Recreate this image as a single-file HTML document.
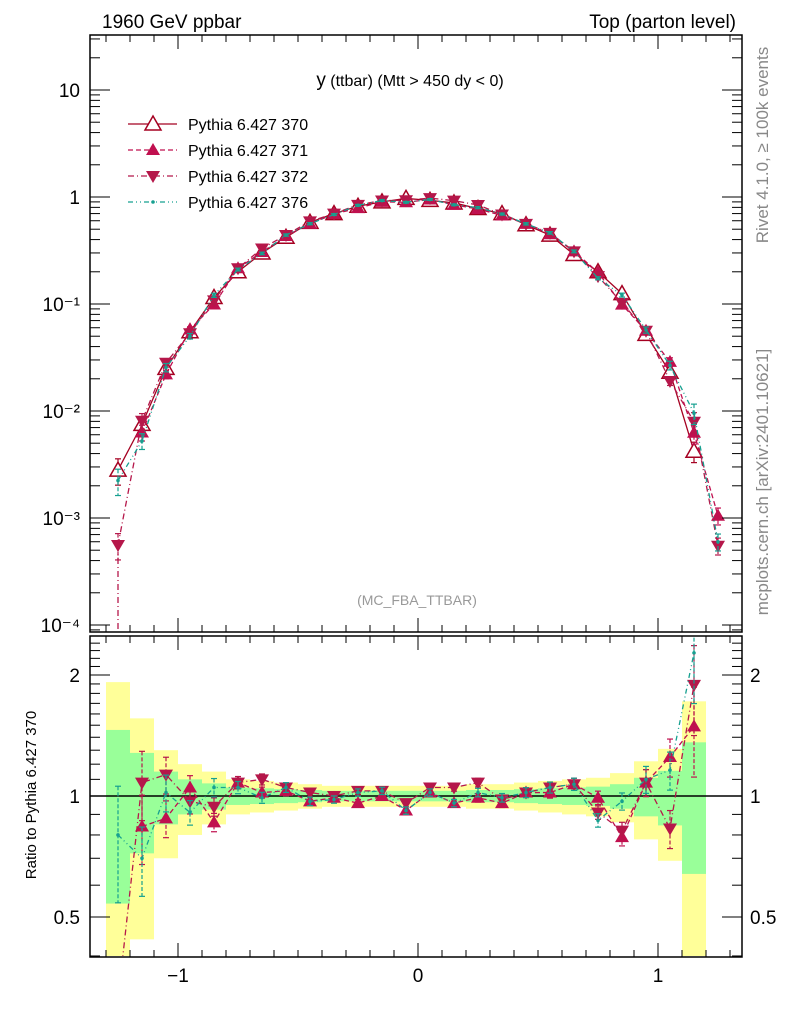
<!DOCTYPE html>
<html><head><meta charset="utf-8"><style>
html,body{margin:0;padding:0;background:#fff;overflow:hidden;width:786px;height:1024px;}
svg{display:block;position:absolute;left:0;top:0;}
svg text{font-family:"Liberation Sans",sans-serif;}
</style></head><body>
<svg id="chart" width="786" height="1024" viewBox="0 0 786 1024" xmlns="http://www.w3.org/2000/svg">
<defs>
<clipPath id="clipMain"><rect x="91" y="36" width="650" height="595"/></clipPath>
<clipPath id="clipRatio"><rect x="91" y="637" width="650" height="319"/></clipPath>
</defs>
<g id="bands" clip-path="url(#clipRatio)"></g>
<g id="grid"></g>
<g id="mainSeries" clip-path="url(#clipMain)"></g>
<g id="ratioSeries" clip-path="url(#clipRatio)"></g>
<rect x="90" y="35" width="652" height="597" fill="none" stroke="#000" stroke-width="1.5"/>
<rect x="90" y="636" width="652" height="321" fill="none" stroke="#000" stroke-width="1.5"/>
<g id="axes"></g>
<text x="102" y="28" font-size="19">1960 GeV ppbar</text>
<text x="736" y="28" font-size="19" text-anchor="end">Top (parton level)</text>
<text x="410" y="86" font-size="16" text-anchor="middle"><tspan font-size="19">y</tspan> (ttbar) (Mtt &gt; 450 dy &lt; 0)</text>
<text x="417" y="605" font-size="14" fill="#999" text-anchor="middle">(MC_FBA_TTBAR)</text>
<text transform="translate(768,145) rotate(-90)" font-size="17" fill="#888" text-anchor="middle">Rivet 4.1.0, ≥ 100k events</text>
<text transform="translate(768,482) rotate(-90)" font-size="17" fill="#888" text-anchor="middle">mcplots.cern.ch [arXiv:2401.10621]</text>
<text transform="translate(36,795) rotate(-90)" font-size="15" text-anchor="middle">Ratio to Pythia 6.427 370</text>
<g id="legend"></g>
<script>
const bins = [-1.25,-1.15,-1.05,-0.95,-0.85,-0.75,-0.65,-0.55,-0.45,-0.35,-0.25,-0.15,-0.05,0.05,0.15,0.25,0.35,0.45,0.55,0.65,0.75,0.85,0.95,1.05,1.15,1.25];
const ref370 = [2.8e-3,7.5e-3,0.025,0.055,0.115,0.2,0.3,0.42,0.58,0.7,0.82,0.9,0.97,0.93,0.88,0.78,0.7,0.55,0.44,0.29,0.2,0.125,0.052,0.023,4.2e-3,null];
const ratio371 = [null,0.84,0.88,1.05,0.86,1.08,1.02,1.03,0.97,0.99,0.96,1.0,0.92,1.02,0.96,0.99,0.96,1.02,1.02,1.07,0.99,0.79,1.08,1.25,1.49,null];
const ratio372 = [0.2,1.08,1.13,0.97,0.94,1.08,1.10,1.05,1.02,1.0,1.03,1.03,0.96,1.05,1.05,1.08,0.98,1.02,1.05,1.07,0.91,0.82,1.08,0.83,1.89,null];
const ratio376 = [0.8,0.7,1.02,0.91,1.05,1.05,0.99,1.05,0.97,0.98,1.02,1.03,0.92,1.02,0.96,1.02,0.99,1.02,1.05,1.07,0.87,0.97,1.10,1.16,2.27,null];
const lastBin371 = 1.05e-3, lastBin372 = 5.5e-4, lastBin376 = 6e-4;
const relErr370 = [0.46,0.28,0.15,0.10,0.075,0.05,0.045,0.04,0.035,0.03,0.03,0.03,0.03,0.03,0.03,0.035,0.035,0.04,0.045,0.05,0.055,0.07,0.11,0.155,0.36,0];
const mainTickLabels = ["10⁻⁴","10⁻³","10⁻²","10⁻¹","1","10"];
const ratioTicks = [0.5,1,2];
const xTicks = [-1,0,1];

const NS="http://www.w3.org/2000/svg";
const X = v => 418 + 240*v;
const YM = v => Math.min(197 - 107*Math.log10(v), 640);
const YR = r => Math.min(796 - 402*Math.log10(r), 1000);
function mk(tag, attrs, parent){const e=document.createElementNS(NS,tag);for(const k in attrs)e.setAttribute(k,attrs[k]);parent.appendChild(e);return e;}

const bandG=document.getElementById('bands');
bins.forEach((b,i)=>{ const e=relErr370[i]; if(!e) return;
  const x0=X(b-0.05), w=240*0.1;
  const ylo=Math.max(1-2*e,0.01);
  const yt=YR(1+2*e), ybt=Math.min(YR(ylo),957);
  const yb=mk('rect',{x:x0,y:yt,width:w,height:ybt-yt,fill:'#ffff99'},bandG);
  
  
  const gt=YR(1+e), gbt=Math.min(YR(1-e),957);
  const gb=mk('rect',{x:x0,y:gt,width:w,height:gbt-gt,fill:'#99ff99'},bandG);
  
  
});
const one=mk('line',{x1:90,x2:742,y1:YR(1),y2:YR(1),stroke:'#000','stroke-width':1.5},document.getElementById('grid'));



const ax=document.getElementById('axes');
function tk(x1,y1,x2,y2){mk('line',{x1,y1,x2,y2,stroke:'#000','stroke-width':1},ax);}
for(let k=-13;k<=13;k++){const v=k/10,x=X(v),L=(k%10===0)?14:7;
  if(x<91||x>741)continue;
  tk(x,632,x,632-L);tk(x,35,x,35+L);tk(x,957,x,957-L);tk(x,636,x,636+L);}
for(let d=-5;d<=1;d++){for(let m=1;m<=9;m++){const v=m*Math.pow(10,d),y=197-107*Math.log10(v);
  if(y<36||y>631)continue;const L=m===1?20:10;tk(90,y,90+L,y);tk(742,y,742-L,y);}}
[0.4,0.5,0.6,0.7,0.8,0.9,1,2].forEach(r=>{const y=YR(r);if(y<637||y>956)return;
  const L=(r===0.5||r===1||r===2)?20:10;tk(90,y,90+L,y);tk(742,y,742-L,y);});
for(let r=1.1;r<2.5;r+=0.1){const y=YR(r);if(y<637)break;if(Math.abs(r-2)<0.01)continue;tk(90,y,100,y);tk(742,y,732,y);}
mainTickLabels.forEach((t,i)=>{const d=i-4;const el=mk('text',{x:80,y:YM(Math.pow(10,d))+7,'font-size':19,'text-anchor':'end'},ax);el.textContent=t;
  
  });
ratioTicks.forEach(r=>{[80,750].forEach(x=>{const el=mk('text',{x:x,y:YR(r)+7,'font-size':19,'text-anchor':x<100?'end':'start'},ax);el.textContent=String(r);
  
  });});
xTicks.forEach(v=>{const el=mk('text',{x:X(v),y:982,'font-size':19,'text-anchor':'middle'},ax);el.textContent=v<0?'−'+Math.abs(v):String(v);
  
  });

const series=[
 {name:'370',color:'#a50021',dash:'',marker:'open-up',ratio:bins.map((b,i)=>ref370[i]?1:null),main:ref370.slice()},
 {name:'371',color:'#c0104f',dash:'5,3',marker:'up',ratio:ratio371,main:ratio371.map((r,i)=>r&&ref370[i]?r*ref370[i]:null)},
 {name:'372',color:'#b5174a',dash:'6,3,1,3',marker:'down',ratio:ratio372,main:ratio372.map((r,i)=>r&&ref370[i]?r*ref370[i]:null)},
 {name:'376',color:'#16a090',dash:'5,3,1,3,1,3',marker:'dot',ratio:ratio376,main:ratio376.map((r,i)=>r&&ref370[i]?r*ref370[i]:null)}
];
series[1].main[25]=lastBin371;series[2].main[25]=lastBin372;series[3].main[25]=lastBin376;
function marker(g,type,x,y,c){
  if(type==='open-up')return mk('path',{d:`M${x},${y-8}L${x+8},${y+6}L${x-8},${y+6}Z`,fill:'#fff',stroke:c,'stroke-width':1.5},g);
  if(type==='up')return mk('path',{d:`M${x},${y-7}L${x+7},${y+5}L${x-7},${y+5}Z`,fill:c},g);
  if(type==='down')return mk('path',{d:`M${x},${y+7}L${x+7},${y-5}L${x-7},${y-5}Z`,fill:c},g);
  return mk('circle',{cx:x,cy:y,r:1.8,fill:c},g);
}
function drawSeries(parent,s,vals,Yf,errScale,dropEdge){
  const g=mk('g',{},parent);
  
  
  let pts=[];
  vals.forEach((v,i)=>{if(v==null||v<=0)return;pts.push([X(bins[i]),Yf(v),i,v]);});
  if(dropEdge&&pts.length&&pts[0][3]<1e-3){
    mk('line',{x1:pts[0][0],x2:pts[0][0],y1:pts[0][1],y2:640,stroke:s.color,'stroke-width':1.3,'stroke-dasharray':s.dash},g);
  }
  mk('polyline',{points:pts.map(p=>p[0]+','+p[1]).join(' '),fill:'none',stroke:s.color,'stroke-width':1.3,'stroke-dasharray':s.dash},g);
  pts.forEach(p=>{const e=Math.min((relErr370[p[2]]||0.3)*errScale,0.9);
    const y1=Yf(p[3]*(1+e)),y2=Yf(p[3]*(1-e));
    mk('line',{x1:p[0],x2:p[0],y1:y1,y2:y2,stroke:s.color,'stroke-width':1.2,'stroke-dasharray':s.dash?'4,2':''},g);
    mk('line',{x1:p[0]-3,x2:p[0]+3,y1:y1,y2:y1,stroke:s.color,'stroke-width':1.2},g);
    mk('line',{x1:p[0]-3,x2:p[0]+3,y1:y2,y2:y2,stroke:s.color,'stroke-width':1.2},g);
    const m=marker(g,s.marker,p[0],p[1],s.color);
    
    
  });
}
const mg=document.getElementById('mainSeries'),rg=document.getElementById('ratioSeries');
series.forEach(s=>{drawSeries(mg,s,s.main,YM,0.6,true);});
series.slice(1).forEach(s=>{drawSeries(rg,s,s.ratio,YR,0.7,false);});
const lg=document.getElementById('legend');
series.forEach((s,i)=>{const y=124+26*i;
  const e=mk('g',{},lg);
  
  
  mk('line',{x1:128,x2:177,y1:y,y2:y,stroke:s.color,'stroke-width':1.3,'stroke-dasharray':s.dash},e);
  marker(e,s.marker,153,y,s.color);
  const t=mk('text',{x:188,y:y+6,'font-size':16},e);t.textContent='Pythia 6.427 '+s.name;
});
</script>
</svg>
</body></html>
